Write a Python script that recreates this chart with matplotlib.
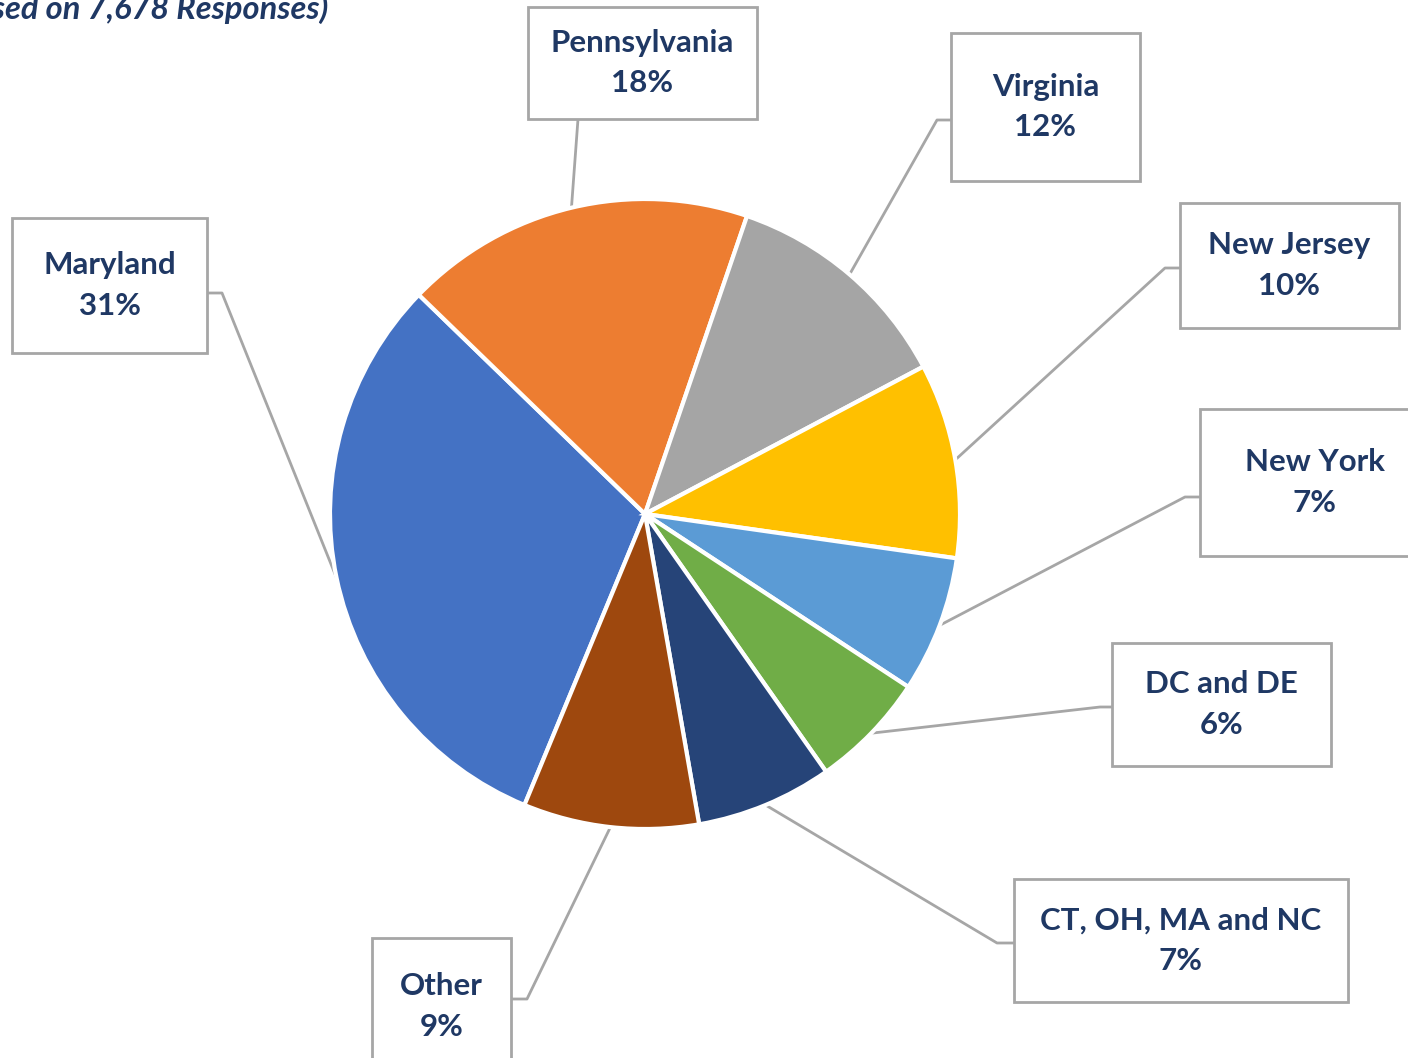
import numpy as np
import matplotlib.pyplot as plt
from matplotlib.patches import Rectangle

# data
states = ["Maryland", "Pennsylvania", "Virginia", "New Jersey", "New York",
          "DC and DE", "CT, OH, MA and NC", "Other"]
shares = [31, 18, 12, 10, 7, 6, 7, 9]
colors = ["#4472C4", "#ED7D31", "#A5A5A5", "#FFC000", "#5B9BD5",
          "#70AD47", "#264478", "#9E480E"]

# layout in pixels (y measured from top): label boxes and leader line elbows
boxes = [(12, 218, 207, 353), (528, 7, 757, 119), (951, 33, 1140, 181),
         (1180, 203, 1399, 328), (1200, 409, 1430, 556), (1112, 643, 1331, 766),
         (1014, 879, 1348, 1002), (372, 938, 511, 1075)]
elbows = [[(207, 293), (222, 293)], [(578, 119)], [(951, 120), (937, 120)],
          [(1180, 268), (1165, 268)], [(1200, 497), (1185, 497)],
          [(1112, 707), (1100, 707)], [(1014, 943), (997, 943)],
          [(511, 999), (527, 999)]]

W, H = 1408, 1058
navy = "#1F3864"
grey = "#A6A6A6"
cx, cy, r = 645, 514, 315
start = 247.5

plt.rcParams['font.family'] = ['Lato', 'DejaVu Sans']

fig = plt.figure(figsize=(W / 100, H / 100), dpi=100)
ax = fig.add_axes([0, 0, 1, 1])

wedges, _ = ax.pie(shares, colors=colors, startangle=start, counterclock=False,
                   center=(cx, H - cy), radius=r,
                   wedgeprops=dict(edgecolor="white", linewidth=3, zorder=3))
ax.set_xlim(0, W)
ax.set_ylim(0, H)
ax.set_aspect("equal")
ax.axis("off")

total = sum(shares)
cum = 0
for i, (name, val) in enumerate(zip(states, shares)):
    mid = np.deg2rad(start - 360 * (cum + val / 2) / total)
    cum += val
    ex, ey = cx + r * np.cos(mid), cy - r * np.sin(mid)
    pts = elbows[i] + [(ex, ey)]
    ax.plot([p[0] for p in pts], [H - p[1] for p in pts], color=grey, lw=2, zorder=1)
    x0, y0, x1, y1 = boxes[i]
    ax.add_patch(Rectangle((x0, H - y1), x1 - x0, y1 - y0, facecolor="white",
                           edgecolor=grey, lw=2, zorder=2, clip_on=True))
    ax.text((x0 + x1) / 2, H - (y0 + y1) / 2, f"{name}\n{val}%", ha="center",
            va="center", fontsize=22.5, fontweight="bold", color=navy,
            linespacing=1.55, zorder=4)

ax.text(328, H - 19, "(Based on 7,678 Responses)", ha="right", va="baseline",
        fontsize=23.5, fontweight="bold", fontstyle="italic", color=navy)

fig.savefig("out.png", dpi=100)
